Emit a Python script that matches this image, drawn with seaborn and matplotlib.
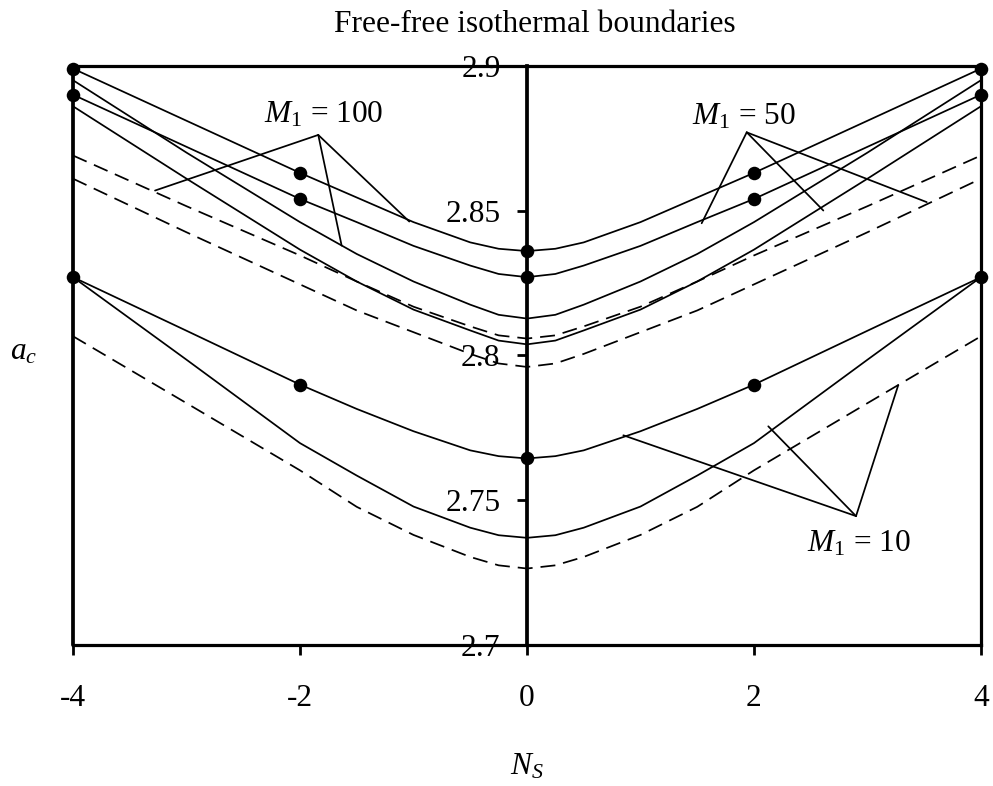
import matplotlib
matplotlib.use("Agg")
import matplotlib.pyplot as plt
import seaborn as sns

# ---------------- data ----------------
ns = [-4, -3, -2, -1.5, -1, -0.5, -0.25, 0, 0.25, 0.5, 1, 1.5, 2, 3, 4]

# M1 = 100
m100_solid_a = [2.899, 2.881, 2.863, 2.8545, 2.846, 2.839, 2.8368, 2.836,
                2.8368, 2.839, 2.846, 2.8545, 2.863, 2.881, 2.899]
m100_solid_b = [2.895, 2.870, 2.846, 2.835, 2.8255, 2.8175, 2.814, 2.8127,
                2.814, 2.8175, 2.8255, 2.835, 2.846, 2.870, 2.895]
m100_dashed = [2.869, 2.8515, 2.8345, 2.8255, 2.8168, 2.810, 2.8069, 2.8058,
               2.8069, 2.810, 2.8168, 2.8255, 2.8345, 2.8515, 2.869]
# M1 = 50
m50_solid_a = [2.890, 2.872, 2.854, 2.846, 2.8378, 2.831, 2.8281, 2.827,
               2.8281, 2.831, 2.8378, 2.846, 2.854, 2.872, 2.890]
m50_solid_b = [2.886, 2.861, 2.8365, 2.8255, 2.8158, 2.8086, 2.8051, 2.8038,
               2.8051, 2.8086, 2.8158, 2.8255, 2.8365, 2.861, 2.886]
m50_dashed = [2.861, 2.8425, 2.8245, 2.8155, 2.808, 2.8005, 2.7972, 2.796,
              2.7972, 2.8005, 2.808, 2.8155, 2.8245, 2.8425, 2.861]
# M1 = 10
m10_solid_a = [2.827, 2.8085, 2.7899, 2.7815, 2.7738, 2.7672, 2.7652, 2.7644,
               2.7652, 2.7672, 2.7738, 2.7815, 2.7899, 2.8085, 2.827]
m10_solid_b = [2.827, 2.7985, 2.7697, 2.7585, 2.7478, 2.7405, 2.7379, 2.737,
               2.7379, 2.7405, 2.7478, 2.7585, 2.7697, 2.7985, 2.827]
m10_dashed = [2.8066, 2.7835, 2.7603, 2.7477, 2.738, 2.7304, 2.7275, 2.7264,
              2.7275, 2.7304, 2.738, 2.7477, 2.7603, 2.7835, 2.8066]

# dot markers
mark_ns = [-4, -2, 0, 2, 4]
mark_m100 = [2.899, 2.863, 2.836, 2.863, 2.899]
mark_m50 = [2.890, 2.854, 2.827, 2.854, 2.890]
mark_m10 = [2.827, 2.7899, 2.7644, 2.7899, 2.827]

# labels with pointer lines: text, text anchor (N, a), pointer origin, pointer targets
label_texts = ["$M_1$ = 100", "$M_1$ = 50", "$M_1$ = 10"]
label_pos = [(-2.317, 2.8804), (1.451, 2.8797), (2.464, 2.7322)]
pointer_origin = [(-1.839, 2.8761), (1.936, 2.877), (2.899, 2.7445)]
pointer_targets = [
    [(-3.277, 2.8569), (-1.037, 2.8462), (-1.633, 2.8379)],
    [(1.539, 2.8456), (2.611, 2.850), (3.522, 2.8529)],
    [(0.849, 2.7724), (2.126, 2.7755), (3.271, 2.7897)],
]

y_ticks = [2.7, 2.75, 2.8, 2.85, 2.9]
y_ticklabels = ["2.7", "2.75", "2.8", "2.85", "2.9"]
x_ticks = [-4, -2, 0, 2, 4]
x_ticklabels = ["-4", "-2", "0", "2", "4"]

title = "Free-free isothermal boundaries"

# ---------------- style ----------------
sns.set_theme(style="white")
plt.rcParams["font.family"] = ["Liberation Serif", "DejaVu Serif"]
plt.rcParams["mathtext.fontset"] = "custom"
plt.rcParams["mathtext.rm"] = "Liberation Serif"
plt.rcParams["mathtext.it"] = "Liberation Serif:italic"
plt.rcParams["axes.labelcolor"] = "black"
plt.rcParams["text.color"] = "black"
FS = 22.6
LW = 1.25
SPW = 2.3
DASH = (8.6, 4.6)

fig = plt.figure(figsize=(9.93, 7.86), dpi=100)
ax = fig.add_axes([0.0735, 0.1794, 0.9144, 0.737])

solid = [m100_solid_a, m100_solid_b, m50_solid_a, m50_solid_b, m10_solid_a, m10_solid_b]
dashed = [m100_dashed, m50_dashed, m10_dashed]
for s in solid:
    sns.lineplot(x=ns, y=s, ax=ax, color="black", lw=LW, sort=False,
                 estimator=None, zorder=3)
for s in dashed:
    sns.lineplot(x=ns, y=s, ax=ax, color="black", lw=LW, sort=False,
                 estimator=None, linestyle=(0, DASH), zorder=3)

for m in (mark_m100, mark_m50, mark_m10):
    sns.scatterplot(x=mark_ns, y=m, ax=ax, color="black", s=95,
                    linewidth=0, zorder=6, clip_on=False)

for txt, pos, org, tgts in zip(label_texts, label_pos, pointer_origin, pointer_targets):
    ax.text(pos[0], pos[1], txt, fontsize=FS, ha="left", va="baseline",
            color="black", zorder=7)
    for t in tgts:
        ax.annotate("", xy=t, xytext=org,
                    arrowprops=dict(arrowstyle="-", lw=LW, color="black",
                                    shrinkA=0, shrinkB=0))

ax.set_xlim(-4, 4)
ax.set_ylim(2.7, 2.9)

for sp in ax.spines.values():
    sp.set_visible(True)
    sp.set_color("black")
    sp.set_linewidth(SPW)
ax.spines["left"].set_position(("data", 0))
ax.spines["left"].set_linewidth(SPW + 0.4)
ax.axvline(-4, color="black", lw=SPW + 0.4, clip_on=False, zorder=8)

ax.set_yticks(y_ticks)
ax.set_yticklabels(y_ticklabels)
ax.set_xticks(x_ticks)
ax.set_xticklabels(x_ticklabels)
ax.tick_params(axis="y", direction="out", length=7, width=2, pad=12,
               labelsize=FS, left=True, right=False, colors="black")
ax.tick_params(axis="x", direction="out", length=7, width=2, pad=21,
               labelsize=FS, bottom=True, top=False, colors="black")
for lab in ax.get_yticklabels():
    lab.set_zorder(9)

ax.set_xlabel("$N_S$", fontsize=FS, va="center", color="black")
ax.xaxis.set_label_coords(0.5, -0.2106)
ax.set_ylabel("$a_c$", fontsize=FS, rotation=0, va="center", ha="center",
              color="black")
ax.yaxis.set_label_coords(-0.054, 0.506)

fig.text(535 / 993, 1 - 31.7 / 786, title, fontsize=FS, ha="center",
         va="baseline", color="black")

fig.savefig("out.png", dpi=100, facecolor="white")
